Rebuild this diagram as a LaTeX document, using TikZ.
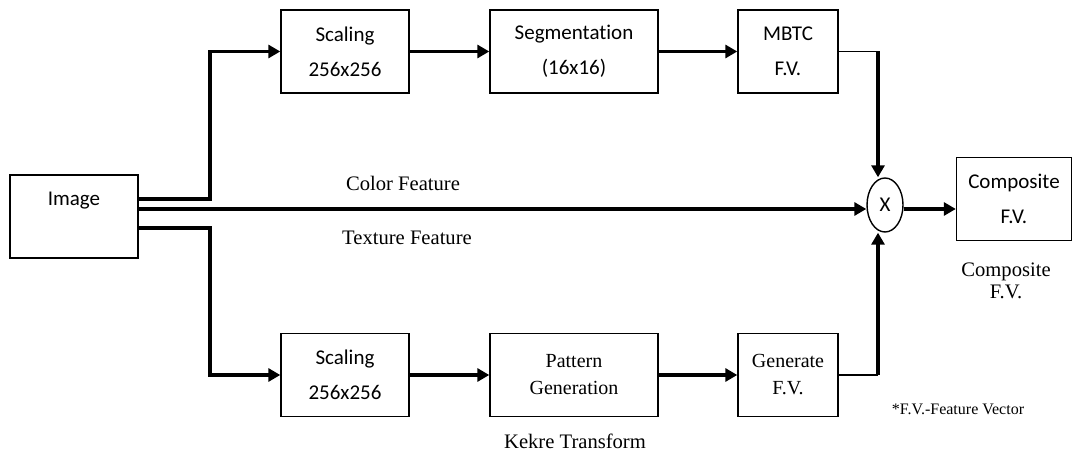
\documentclass[tikz,border=0pt]{standalone}
\usepackage{fontspec}
\setmainfont{Carlito}[Ligatures=CommonOff]
\newfontfamily\tnr{Liberation Serif}
\usetikzlibrary{arrows.meta,shapes.geometric}
\tikzset{
    x=0.5pt, y=-0.5pt,
    box/.style ={rectangle, draw, line width=0.7pt, minimum height=41.5pt, align=center, inner sep=0pt,
                 font=\fontsize{10.5}{17.5}\selectfont},
    sbox/.style={box, font=\tnr\fontsize{10}{13.5}\selectfont},
    mult/.style={ellipse, draw, line width=0.7pt, minimum width=18pt, minimum height=27pt, inner sep=0pt,
                 font=\fontsize{10.5}{10.5}\selectfont},
    txt/.style ={inner sep=0pt, align=center, font=\tnr\fontsize{10.3}{11}\selectfont},
    flow/.style={line width=1.7pt, -{Triangle[length=6pt,width=6.5pt]}},
    stub/.style={line width=0.7pt}
}
\begin{document}
\begin{tikzpicture}
    \useasboundingbox (0,0) rectangle (1074,453);

    \node (img) at (74,216.5) [box, minimum width=64pt] {Image\\\mbox{}};
    \node (sc1) at (345,51.5) [box, minimum width=64pt] {Scaling\\256x256};
    \node (seg) at (574,51.5) [box, minimum width=84pt] {Segmentation\\(16x16)};
    \node (mbtc) at (788,51.5) [box, minimum width=50pt] {MBTC\\F.V.};
    \node (sc2) at (345,375) [box, minimum width=64pt] {Scaling\\256x256};
    \node (pat) at (574,375) [sbox, minimum width=84pt] {Pattern\\Generation};
    \node (gen) at (788,375) [sbox, minimum width=50pt] {Generate\\F.V.};
    \node (circ) at (885,205) [mult] {X};
    \node (comp) at (1014,199) [box, minimum width=57.5pt] {Composite\\F.V.};

    \node (col) at (403,183) [txt] {Color Feature};
    \node (tex) at (407,238) [txt] {Texture Feature};
    \node (kek) at (575,441) [txt] {Kekre Transform};
    \node (cfv) at (1006,281) [txt] {Composite\\F.V.};
    \node (key) at (958,409) [txt, font=\tnr\fontsize{8}{9}\selectfont] {*F.V.-Feature Vector};

    \coordinate (bx) at (210,0);
    \coordinate (jx) at (878,0);

    % upper branch
    \draw[flow] ([yshift=8.75pt]img.east) -| (sc1.west -| bx) -- (sc1.west);
    \draw[flow] (sc1) -- (seg);
    \draw[flow] (seg) -- (mbtc);
    \draw[stub] (mbtc.east) -- (mbtc.east -| jx);
    \draw[flow] (mbtc.east -| jx) -- (jx |- circ.north);

    % color feature
    \draw[flow] ([yshift=3.75pt]img.east) -- ([yshift=-2pt]circ.west);
    \draw[flow] ([yshift=-2pt]circ.east) -- ([yshift=-5pt]comp.west);

    % lower branch
    \draw[flow] ([yshift=-5.75pt]img.east) -| (sc2.west -| bx) -- (sc2.west);
    \draw[flow] (sc2) -- (pat);
    \draw[flow] (pat) -- (gen);
    \draw[stub] (gen.east) -- (gen.east -| jx);
    \draw[flow] (gen.east -| jx) -- (jx |- circ.south);
\end{tikzpicture}
\end{document}
